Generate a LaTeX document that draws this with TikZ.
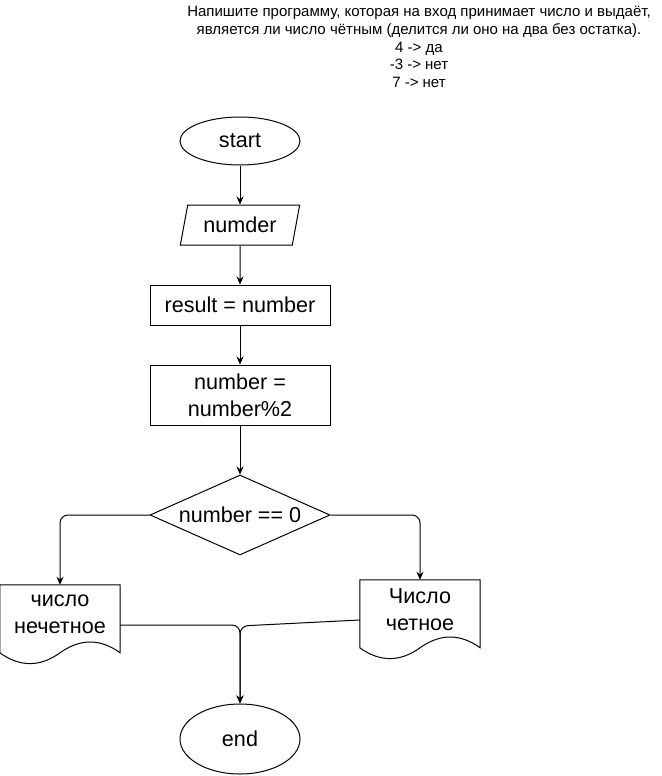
\documentclass[tikz,border=0pt]{standalone}
\usepackage{fontspec}
\setmainfont{Liberation Sans}
\usetikzlibrary{arrows.meta,calc,shapes.geometric}

\begin{document}
\begin{tikzpicture}[x=1pt,y=-1pt,
  line/.style={draw=black,line width=1pt},
  flow/.style={line,-{Stealth[length=8pt,width=7pt]},rounded corners=8pt},
  basebox/.style={line,fill=white,inner sep=0pt,align=center,
    font=\fontsize{21.6}{27}\selectfont},
  terminal/.style={basebox,ellipse,minimum width=120pt},
  process/.style={basebox,rectangle,minimum width=180pt},
  inputbox/.style={basebox,trapezium,trapezium left angle=72,trapezium right angle=108,
    minimum width=120pt,minimum height=40pt,trapezium stretches=true},
  decision/.style={basebox,diamond,minimum width=180pt,minimum height=80pt,aspect=2.25},
  docbox/.style={draw=none,inner sep=0pt,minimum width=120pt,minimum height=80pt},
  doctext/.style={align=center,inner sep=0pt,font=\fontsize{21.6}{27}\selectfont},
  note/.style={align=center,inner sep=0pt,font=\fontsize{15}{17.6}\selectfont}
]
\useasboundingbox (0,0) rectangle (661,776);

% task statement
\node[note] (task) at (419,47) {Напишите программу, которая на вход принимает число и выдаёт,\\
является ли число чётным (делится ли оно на два без остатка).\\
4 -> да\\
-3 -> нет\\
7 -> нет};

% main column
\node[terminal,minimum height=48pt] (start) at (240,141) {start};
\node[inputbox] (input) at (240,225) {numder};
\node[process,minimum height=40pt] (assign) at (240,305) {result = number};
\node[process,minimum height=60pt] (mod) at (240,395) {number =\\ number\%2};
\node[decision] (check) at (240,515) {number == 0};

% document outputs
\node[docbox] (odd) at (60,625) {};
\node[docbox] (even) at (420,620) {};
\newcommand\docoutline[1]{%
  \draw[line,fill=white] (#1.north west) -- (#1.north east)
    -- ($(#1.north east)+(0,68)$)
    .. controls ($(#1.north east)+(-20,53.6)$) and ($(#1.north east)+(-40,53.6)$) .. ($(#1.north)+(0,68)$)
    .. controls ($(#1.north)+(-20,82.4)$) and ($(#1.north)+(-40,82.4)$) .. ($(#1.north west)+(0,68)$)
    -- cycle;}
\docoutline{odd}
\docoutline{even}
\node[doctext] (oddtext) at ($(odd.center)+(0,-11)$) {число\\нечетное};
\node[doctext] (eventext) at ($(even.center)+(0,-10)$) {Число\\четное};

\node[terminal,minimum height=70pt] (end) at (240,739) {end};

% connectors
\draw[flow] (start) -- (input);
\draw[flow] (input) -- (assign);
\draw[flow] (assign) -- (mod);
\draw[flow] (mod) -- (check);
\draw[flow] (check.west) -| (odd.north);
\draw[flow] (check.east) -| (even.north);
\coordinate (join) at (240,626);
\draw[flow] (odd.east) -| (end.north);
\draw[flow] (even.west) -- (join) -- (end.north);
\end{tikzpicture}
\end{document}
